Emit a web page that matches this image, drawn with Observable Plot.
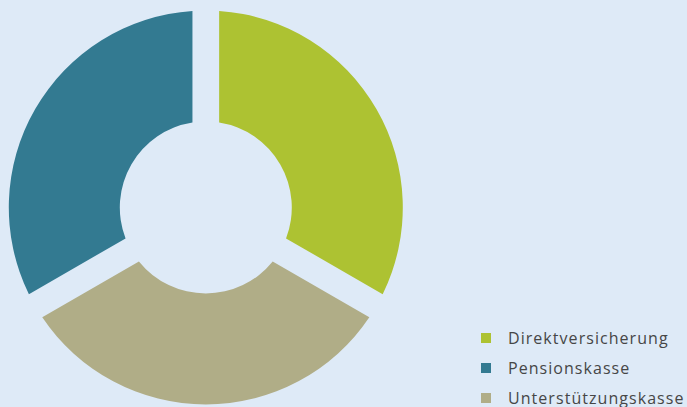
<!DOCTYPE html>
<html>
<head>
<meta charset="utf-8">
<script src="https://cdn.jsdelivr.net/npm/d3@7"></script>
<script src="https://cdn.jsdelivr.net/npm/@observablehq/plot@0.6"></script>
<style>
  html, body { margin: 0; padding: 0; background: #deeaf7; }
  #wrap { position: relative; width: 687px; height: 407px; overflow: hidden; background: #deeaf7; }
  #legend { position: absolute; left: 481px; top: 323px; font-family: "Open Sans", sans-serif; font-size: 16px; letter-spacing: 1.05px; color: #464646; }
  .row { display: flex; align-items: center; height: 30px; white-space: nowrap; }
  .sw { width: 10px; height: 10px; margin-right: 17px; flex: none; }
</style>
</head>
<body>
<div id="wrap"></div>
<script>
// Data
const categories = ["Direktversicherung", "Pensionskasse", "Unterstützungskasse"];
const values = [33.3, 33.3, 33.3];
const colors = ["#adc232", "#337a91", "#b0ad87"];
// clockwise order of slices starting at 12 o'clock
const sliceOrder = ["Direktversicherung", "Unterstützungskasse", "Pensionskasse"];

const data = categories.map((c, i) => ({category: c, value: values[i]}));
const innerRatio = 0.4365;
const gapPx = 26.7;

function donut(index, scales) {
  const cx = scales.x(0), cy = scales.y(0);
  const R = Math.abs(scales.x(1) - scales.x(0));
  const r = R * innerRatio;
  const ordered = sliceOrder.map(c => data.find(d => d.category === c));
  const pie = d3.pie().sort(null).value(d => d.value)(ordered);
  const arc = d3.arc().innerRadius(r).outerRadius(R)
    .padRadius(R).padAngle(2 * Math.asin((gapPx / 2) / R));
  const g = d3.create("svg:g").attr("transform", `translate(${cx},${cy})`);
  g.selectAll("path").data(pie).join("path")
    .attr("d", arc)
    .attr("fill", d => scales.color(d.data.category));
  return g.node();
}

const chart = Plot.plot({
  width: 687,
  height: 407,
  marginLeft: 8.8,
  marginRight: 284.2,
  marginTop: 10.5,
  marginBottom: 2.5,
  style: {background: "transparent", overflow: "visible"},
  x: {domain: [-1, 1], axis: null},
  y: {domain: [-1, 1], axis: null},
  color: {domain: categories, range: colors},
  marks: [
    Plot.dot(data, {x: () => 0, y: () => 0, fill: "category", r: 0}),
    donut
  ]
});

const wrap = document.getElementById("wrap");
wrap.appendChild(chart);

const colorScale = chart.scale("color");
const legend = d3.select(wrap).append("div").attr("id", "legend");
const rows = legend.selectAll(".row").data(categories).join("div").attr("class", "row");
rows.append("div").attr("class", "sw").style("background", (d, i) => colorScale.range[i]);
rows.append("span").text(d => d);
</script>
</body>
</html>
